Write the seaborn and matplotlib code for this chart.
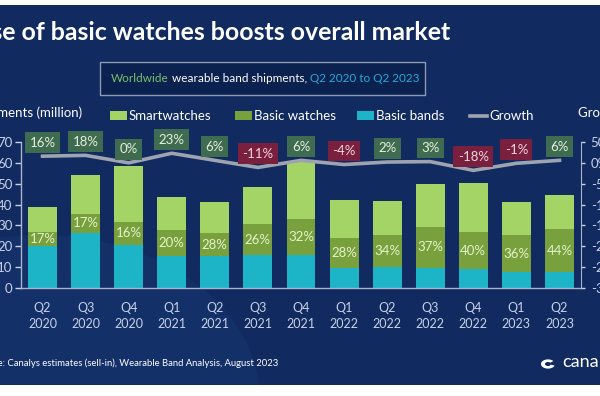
import numpy as np
import pandas as pd
import matplotlib
matplotlib.use("Agg")
import matplotlib.pyplot as plt
import matplotlib.patches as mpatches
from matplotlib.lines import Line2D
import seaborn as sns

# Data (million units / %)
quarters = ["Q2\n2020", "Q3\n2020", "Q4\n2020", "Q1\n2021", "Q2\n2021", "Q3\n2021", "Q4\n2021",
            "Q1\n2022", "Q2\n2022", "Q3\n2022", "Q4\n2022", "Q1\n2023", "Q2\n2023"]
basic_bands = [20.3, 26.5, 20.6, 15.3, 15.3, 15.7, 15.8, 9.7, 9.9, 9.7, 9.0, 7.5, 7.8]
basic_watches = [6.7, 9.0, 11.2, 12.5, 10.9, 15.0, 17.2, 14.1, 15.5, 19.7, 17.7, 17.9, 20.3]
smartwatches = [12.0, 18.5, 26.7, 15.7, 14.8, 17.6, 27.5, 18.4, 16.3, 20.5, 23.5, 16.0, 16.3]
bw_share = ["17%", "17%", "16%", "20%", "28%", "26%", "32%", "28%", "34%", "37%", "40%", "36%", "44%"]
growth = [16, 18, 0, 23, 6, -11, 6, -4, 2, 3, -18, -1, 6]

df = pd.DataFrame({"quarter": quarters, "bands": basic_bands,
                   "watches": basic_watches, "smart": smartwatches, "growth": growth})
df["bw_top"] = df["bands"] + df["watches"]
df["total"] = df["bw_top"] + df["smart"]

BG = "#112a60"
C_SMART = "#a5d466"
C_BW = "#78a03c"
C_BAND = "#1db4c8"
C_LINE = "#9ea3b0"
C_TICK = "#c8d2e6"
FONT = "Lato"

W, H = 600, 396
fig = plt.figure(figsize=(6, 3.96), dpi=100)
fig.patch.set_facecolor("white")

def px(x, y):
    return x / W, 1 - y / H

# navy background panel with a lighter swirl
bg = mpatches.Rectangle((0, 1 - 385 / H), 1, (385 - 5) / H, transform=fig.transFigure,
                        facecolor=BG, edgecolor="none", zorder=0)
fig.patches.append(bg)
swirl = mpatches.Ellipse(px(40, 400), 440 / W, 330 / H, transform=fig.transFigure,
                         facecolor="#1c3d7a", edgecolor="none", alpha=0.35, zorder=0)
swirl.set_clip_path(bg)
fig.patches.append(swirl)

ax = fig.add_axes([21 / W, 1 - 288 / H, 560 / W, 146 / H])
ax.set_facecolor("none")
ax.set_zorder(2)

sns.barplot(data=df, x="quarter", y="total", color=C_SMART, width=0.67, ax=ax, saturation=1)
sns.barplot(data=df, x="quarter", y="bw_top", color=C_BW, width=0.67, ax=ax, saturation=1)
sns.barplot(data=df, x="quarter", y="bands", color=C_BAND, width=0.67, ax=ax, saturation=1)

for i, row in df.iterrows():
    ax.text(i, row["bands"] + row["watches"] / 2, bw_share[i], ha="center", va="center",
            color="#e4f2cc", fontsize=9.5, family=FONT)

ax.set_xlim(-0.5, 12.5)
ax.set_ylim(0, 70)
ax.set_yticks(range(0, 71, 10))
ax.set_xlabel("")
ax.set_ylabel("")
ax.tick_params(axis="x", length=0, pad=10, colors=C_TICK, labelsize=9)
for lab in ax.get_xticklabels():
    lab.set_family(FONT)
    lab.set_linespacing(1.45)
ax.tick_params(axis="y", length=4, width=1, pad=2, colors=C_TICK, labelsize=9.5)
for lab in ax.get_yticklabels():
    lab.set_family(FONT)
for s in ["top", "right"]:
    ax.spines[s].set_visible(False)
for s in ["left", "bottom"]:
    ax.spines[s].set_color("#a7b3ca")
    ax.spines[s].set_linewidth(1)

ax2 = ax.twinx()
ax2.set_zorder(3)
ax2.set_facecolor("none")
sns.lineplot(x=np.arange(len(growth)), y=df["growth"], ax=ax2, color=C_LINE, linewidth=2.6)
ax2.set_ylim(-300, 50)
ax2.set_yticks(range(-300, 51, 50))
ax2.set_yticklabels([f"{v}%" for v in range(-300, 51, 50)])
ax2.set_ylabel("")
ax2.tick_params(axis="y", length=3, width=1, pad=4, colors=C_TICK, labelsize=9.5)
for lab in ax2.get_yticklabels():
    lab.set_family(FONT)
for s in ["top", "left", "bottom"]:
    ax2.spines[s].set_visible(False)
ax2.spines["right"].set_color("#a7b3ca")

for i, g in enumerate(growth):
    face = "#7a1f3e" if g < 0 else "#3f6b50"
    txt = "#f2d6dc" if g < 0 else "#e6f0dc"
    ax2.annotate(f"{g}%", (i, g), xytext=(0, 9.8), textcoords="offset points",
                 ha="center", va="center", fontsize=9.5, family=FONT, color=txt,
                 bbox=dict(boxstyle="square,pad=0.33", facecolor=face, edgecolor="none"))

# title and subtitle
fig.text(*px(450, 33), "Rise of basic watches boosts overall market", ha="right", va="center",
         color="white", fontsize=17.9, fontweight="bold", family=FONT)
box = mpatches.Rectangle(px(100, 95), 325 / W, 33 / H, transform=fig.transFigure,
                         facecolor="#0b214f", edgecolor="#8d9ab5", linewidth=1, zorder=1)
fig.patches.append(box)
t1 = ax2.annotate("Worldwide", xy=px(111, 78), xycoords="figure fraction", ha="left",
                  va="center", color="#7cc06a", fontsize=8.5, family=FONT, annotation_clip=False)
a2 = ax2.annotate(" wearable band shipments, ", xy=(1, 0), xycoords=t1, va="bottom",
                  color="white", fontsize=8.5, family=FONT, annotation_clip=False)
a3 = ax2.annotate("Q2 2020 to Q2 2023", xy=(1, 0), xycoords=a2, va="bottom",
                  color="#2aa8d8", fontsize=8.5, family=FONT, annotation_clip=False)

# axis titles
fig.text(*px(82, 113), "Shipments (million)", ha="right", va="center", color="white",
         fontsize=9.5, family=FONT)
fig.text(*px(578, 113), "Growth (%)", ha="left", va="center", color="white",
         fontsize=9.5, family=FONT)

# legend
legend_items = [("Smartwatches", C_SMART, 110, "patch"), ("Basic watches", C_BW, 235, "patch"),
                ("Basic bands", C_BAND, 357, "patch"), ("Growth", C_LINE, 470, "line")]
for name, col, x0, kind in legend_items:
    if kind == "patch":
        fig.patches.append(mpatches.Rectangle(px(x0, 120), 17 / W, 9 / H, transform=fig.transFigure,
                                              facecolor=col, edgecolor="none"))
    else:
        fig.lines.append(Line2D([x0 / W, (x0 + 17) / W], [1 - 115.5 / H] * 2,
                                transform=fig.transFigure, color=col, linewidth=2.6))
    fig.text(*px(x0 + 19, 115.5), name, ha="left", va="center", color="white",
             fontsize=9.5, family=FONT)

# source and logo
fig.text(*px(278, 363), "Source: Canalys estimates (sell-in), Wearable Band Analysis, August 2023",
         ha="right", va="center", color="white", fontsize=6.8, family=FONT)
fig.patches.append(mpatches.Wedge(px(548, 364), 7 / W, 40, 340, width=4 / W,
                                  transform=fig.transFigure, facecolor="white", edgecolor="none"))
fig.text(*px(562, 362), "canalys", ha="left", va="center", color="white", fontsize=13, family=FONT)

fig.savefig("out.png", dpi=100, facecolor=fig.get_facecolor())
